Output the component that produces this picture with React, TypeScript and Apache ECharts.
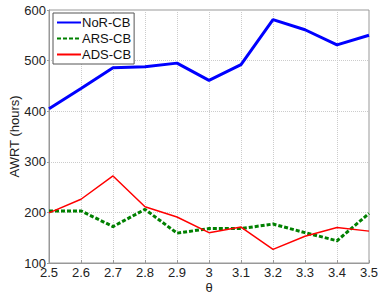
import React, { useEffect, useRef } from "react";
import * as echarts from "echarts";

const categories = ["2.5", "2.6", "2.7", "2.8", "2.9", "3", "3.1", "3.2", "3.3", "3.4", "3.5"];
const norCB = [405, 445, 486, 488, 495, 461, 492, 581, 561, 531, 550];
const arsCB = [203, 203, 172, 206, 159, 168, 168, 177, 160, 144, 198];
const adsCB = [199, 226, 272, 211, 191, 160, 171, 127, 153, 170, 163];
const yTicks = { min: 100, max: 600, interval: 100 };

export default function App() {
  const ref = useRef<HTMLDivElement>(null);
  useEffect(() => {
    const chart = echarts.init(ref.current!, undefined, { renderer: "svg" });
    const font = "Liberation Sans";
    chart.setOption({
      animation: false,
      backgroundColor: "#fff",
      textStyle: { fontFamily: font },
      grid: {
        left: 49,
        right: 9,
        top: 10,
        bottom: 31,
        show: true,
        borderColor: "#999",
        borderWidth: 1,
        containLabel: false,
        outerBoundsMode: "none",
      },
      legend: {
        left: 53,
        top: 13,
        orient: "vertical",
        backgroundColor: "#fff",
        borderColor: "#555",
        borderWidth: 1,
        borderRadius: 0,
        padding: [3, 3, 3, 3],
        itemGap: 3,
        itemWidth: 24,
        itemHeight: 12,
        itemStyle: { opacity: 0 },
        textStyle: { fontFamily: font, fontSize: 13, color: "#111", padding: [0, 0, 0, -4] },
        data: ["NoR-CB", "ARS-CB", "ADS-CB"],
      },
      xAxis: {
        type: "category",
        data: categories,
        boundaryGap: false,
        name: "θ",
        nameLocation: "middle",
        nameGap: 18,
        nameMoveOverlap: false,
        nameTextStyle: { fontFamily: font, fontSize: 13, color: "#222", lineHeight: 12 },
        axisLine: { show: true, lineStyle: { color: "#999" } },
        axisTick: { show: true, inside: true, length: 3, lineStyle: { color: "#999" } },
        axisLabel: { fontFamily: font, fontSize: 13, color: "#222", margin: 3, lineHeight: 12 },
        splitLine: { show: true, lineStyle: { color: "#ccc", type: "dotted" } },
      },
      yAxis: {
        type: "value",
        min: yTicks.min,
        max: yTicks.max,
        interval: yTicks.interval,
        name: "AWRT (hours)",
        nameLocation: "middle",
        nameGap: 28,
        nameMoveOverlap: false,
        nameTextStyle: { fontFamily: font, fontSize: 13, color: "#222", lineHeight: 13 },
        axisLine: { show: true, lineStyle: { color: "#999" } },
        axisTick: { show: true, length: 2, lineStyle: { color: "#999" } },
        axisLabel: { fontFamily: font, fontSize: 13, color: "#222", margin: 3, lineHeight: 9 },
        splitLine: { show: true, lineStyle: { color: "#ccc", type: "dotted" } },
      },
      series: [
        {
          name: "NoR-CB",
          type: "line",
          data: norCB,
          symbol: "none",
          lineStyle: { color: "#0000ff", width: 3 },
          itemStyle: { color: "#0000ff" },
        },
        {
          name: "ARS-CB",
          type: "line",
          data: arsCB,
          symbol: "none",
          lineStyle: { color: "#008000", width: 3, type: [4, 2] },
          itemStyle: { color: "#008000" },
        },
        {
          name: "ADS-CB",
          type: "line",
          data: adsCB,
          symbol: "none",
          lineStyle: { color: "#ff0000", width: 1.5 },
          itemStyle: { color: "#ff0000" },
        },
      ],
    });
    return () => chart.dispose();
  }, []);
  return <div ref={ref} style={{ width: 378, height: 294, position: "absolute", left: 0, top: 0 }} />;
}
